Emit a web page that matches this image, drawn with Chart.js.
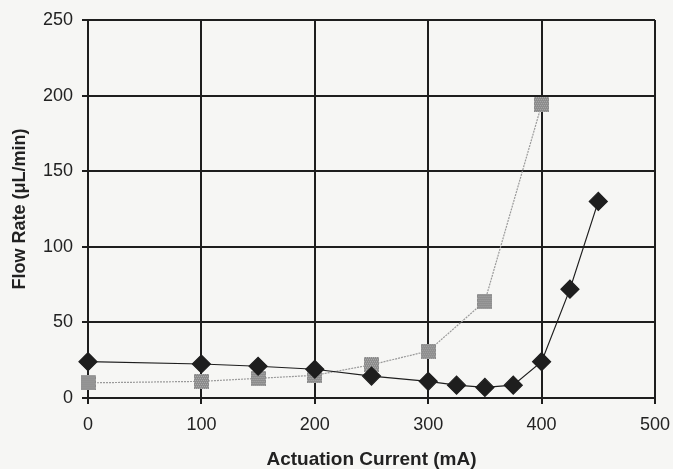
<!DOCTYPE html>
<html>
<head>
<meta charset="utf-8">
<script src="https://cdn.jsdelivr.net/npm/chart.js@4.4.0/dist/chart.umd.min.js"></script>
<style>
    html, body { margin: 0; padding: 0; background: #f6f6f4; }
    #wrap { width: 673px; height: 469px; }
</style>
</head>
<body>
<div id="wrap"><canvas id="flowChart"></canvas></div>
<script>
    // Data
    const currentBlack = [0, 100, 150, 200, 250, 300, 325, 350, 375, 400, 425, 450];
    const flowBlack = [24, 22.5, 21, 19, 14.5, 11, 8.5, 7, 8.5, 24, 72, 130];
    const currentGray = [0, 100, 150, 200, 250, 300, 350, 400];
    const flowGray = [10, 11, 13, 15, 22, 31, 64, 194];
    const xTicks = [0, 100, 200, 300, 400, 500];
    const yTicks = [0, 50, 100, 150, 200, 250];

    const toPoints = (xs, ys) => xs.map((x, i) => ({ x: x, y: ys[i] }));

    // gray square marker with a speckled look
    const sq = document.createElement('canvas');
    sq.width = 15; sq.height = 15;
    const sctx = sq.getContext('2d');
    sctx.fillStyle = '#8a8a8a';
    sctx.fillRect(0, 0, 15, 15);
    sctx.fillStyle = '#b2b2b2';
    for (let yy = 0; yy < 15; yy += 2) {
        for (let xx = (yy / 2) % 2; xx < 15; xx += 2) sctx.fillRect(xx, yy, 1, 1);
    }

    const bgPlugin = {
        id: 'bg',
        beforeDraw(chart) {
            const c = chart.ctx;
            c.save();
            c.fillStyle = '#f6f6f4';
            c.fillRect(0, 0, chart.width, chart.height);
            c.restore();
        }
    };

    new Chart(document.getElementById('flowChart'), {
        type: 'scatter',
        data: {
            datasets: [{
                label: 'Gray',
                data: toPoints(currentGray, flowGray),
                showLine: true,
                clip: false,
                borderColor: '#9a9a9a',
                borderWidth: 1.2,
                borderDash: [2, 1],
                pointStyle: sq,
                order: 2
            }, {
                label: 'Black',
                data: toPoints(currentBlack, flowBlack),
                showLine: true,
                clip: false,
                borderColor: '#1e1e1e',
                borderWidth: 1.2,
                pointStyle: 'rectRot',
                pointRadius: 9,
                pointBackgroundColor: '#1e1e1e',
                pointBorderColor: '#1e1e1e',
                order: 1
            }]
        },
        options: {
            responsive: true,
            maintainAspectRatio: false,
            animation: false,
            layout: { padding: { left: 0, right: 18, top: 20, bottom: 0 } },
            plugins: {
                legend: { display: false },
                tooltip: { enabled: false }
            },
            scales: {
                x: {
                    type: 'linear',
                    min: 0, max: 500,
                    afterBuildTicks: s => { s.ticks = xTicks.map(v => ({ value: v })); },
                    afterFit: s => { s.height = 71; s.paddingLeft = 0; s.paddingRight = 0; },
                    grid: { color: '#1e1e1e', lineWidth: 2, tickLength: 6, tickColor: '#1e1e1e' },
                    border: { color: '#1e1e1e', width: 2 },
                    ticks: { color: '#222', padding: 10, font: { family: 'Liberation Sans', size: 18 } },
                    title: {
                        display: true,
                        text: 'Actuation Current (mA)',
                        color: '#222',
                        padding: { top: 0, bottom: 0 },
                        font: { family: 'Liberation Sans', size: 19, weight: 'bold', lineHeight: 1 }
                    }
                },
                y: {
                    min: 0, max: 250,
                    afterBuildTicks: s => { s.ticks = yTicks.map(v => ({ value: v })); },
                    afterFit: s => { s.width = 88; s.paddingTop = 0; s.paddingBottom = 0; },
                    grid: { color: '#1e1e1e', lineWidth: 2, tickLength: 6, tickColor: '#1e1e1e' },
                    border: { color: '#1e1e1e', width: 2 },
                    ticks: { color: '#222', padding: 9, font: { family: 'Liberation Sans', size: 18 } },
                    title: {
                        display: true,
                        text: 'Flow Rate (μL/min)',
                        color: '#222',
                        padding: { top: 11, bottom: 0 },
                        font: { family: 'Liberation Sans', size: 18, weight: 'bold', lineHeight: 1 }
                    }
                }
            }
        },
        plugins: [bgPlugin]
    });
</script>
</body>
</html>
